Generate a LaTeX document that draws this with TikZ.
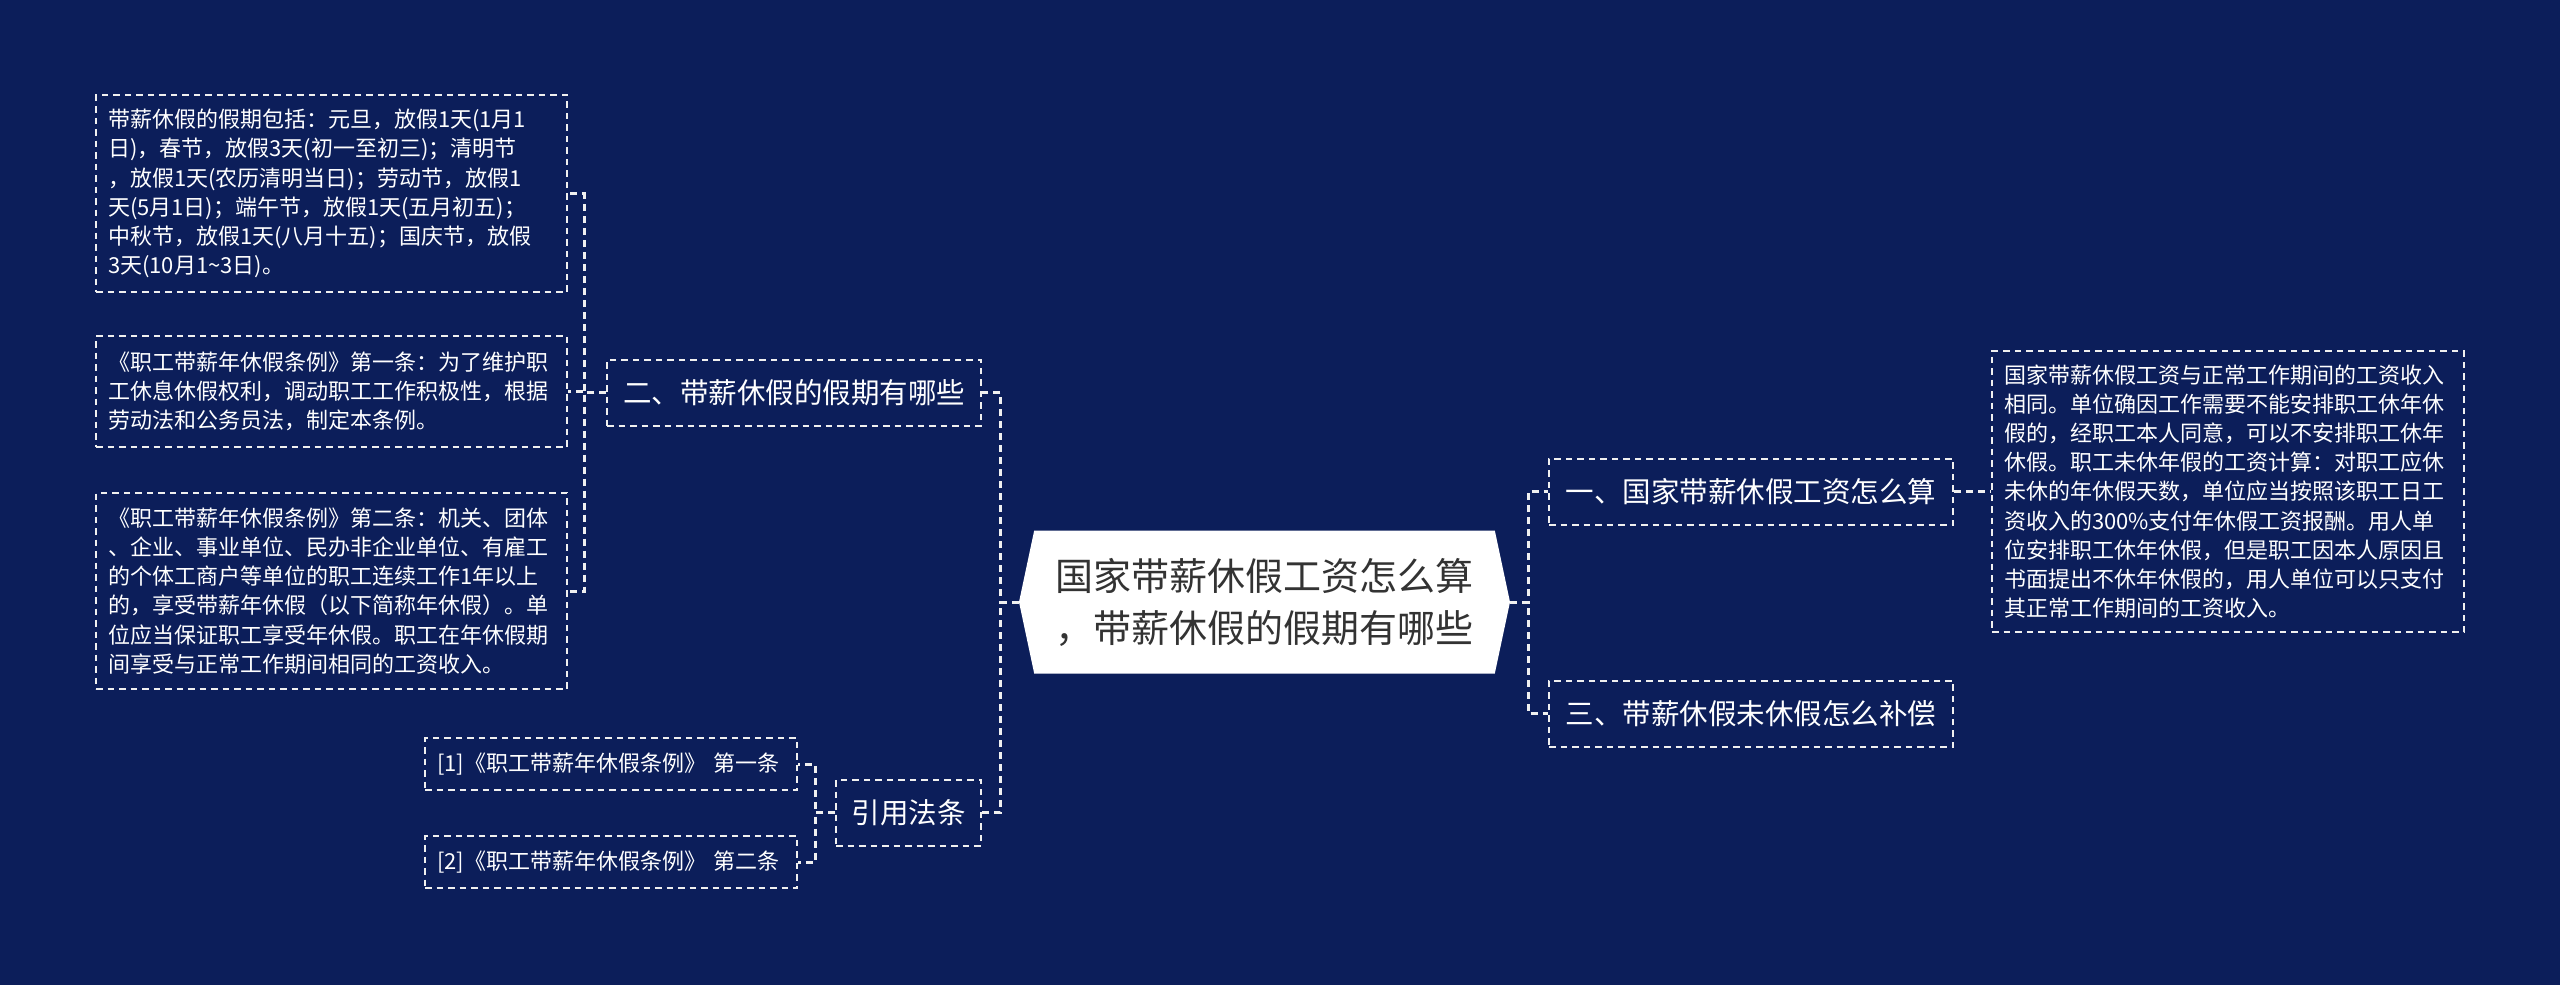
\documentclass[tikz,border=0pt]{standalone}
\usepackage{fontspec}
\setmainfont{Noto Sans CJK SC}
\usetikzlibrary{shapes.symbols}
\definecolor{navy}{HTML}{0C1E5A}
\definecolor{dashline}{HTML}{F0F0F0}
\definecolor{roottext}{HTML}{333333}

\begin{document}
\begin{tikzpicture}[x=1pt, y=-1pt,
    every node/.style={text=white, inner sep=0pt},
    box/.style={draw=dashline, line width=2pt, dash pattern=on 6.5pt off 5pt},
    leaf/.style={box, font=\fontsize{22}{29.2}\selectfont, align=left, inner xsep=12pt},
    topic/.style={box, font=\fontsize{28.5}{34}\selectfont, minimum height=66pt},
    root/.style={signal, signal to=west and east, signal pointer angle=156, fill=white, text=roottext,
      font=\fontsize{38}{52}\selectfont, align=center, minimum width=491pt, minimum height=143pt},
    link/.style={draw=dashline, line width=3pt, dash pattern=on 7pt off 5pt}
  ]
    \fill[navy] (0,0) rectangle (2560,985);
    \useasboundingbox (0,0) rectangle (2560,985);

    \node[root] (root) at (1264.5,602) {国家带薪休假工资怎么算\\，带薪休假的假期有哪些};

    \node[topic, minimum width=404pt] (wage) at (1751,491.5) {一、国家带薪休假工资怎么算};
    \node[topic, minimum width=404pt] (unused) at (1751,713.5) {三、带薪休假未休假怎么补偿};
    \node[leaf, text width=448pt, minimum height=281pt] (wagenote) at (2228,491.5) {国家带薪休假工资与正常工作期间的工资收入\\相同。单位确因工作需要不能安排职工休年休\\假的，经职工本人同意，可以不安排职工休年\\休假。职工未休年假的工资计算：对职工应休\\未休的年休假天数，单位应当按照该职工日工\\资收入的300\%支付年休假工资报酬。用人单\\位安排职工休年休假，但是职工因本人原因且\\书面提出不休年休假的，用人单位可以只支付\\其正常工作期间的工资收入。};

    \node[topic, minimum width=374pt] (holiday) at (794,392.5) {二、带薪休假的假期有哪些};
    \node[topic, minimum width=145pt] (law) at (908.5,812.5) {引用法条};

    \node[leaf, text width=447pt, minimum height=197pt] (holidaylist) at (331.5,193.5) {带薪休假的假期包括：元旦，放假1天(1月1\\日)，春节，放假3天(初一至初三)；清明节\\，放假1天(农历清明当日)；劳动节，放假1\\天(5月1日)；端午节，放假1天(五月初五)；\\中秋节，放假1天(八月十五)；国庆节，放假\\3天(10月1\textasciitilde3日)。};
    \node[leaf, text width=447pt, minimum height=111pt] (article1) at (331.5,391.5) {《职工带薪年休假条例》第一条：为了维护职\\工休息休假权利，调动职工工作积极性，根据\\劳动法和公务员法，制定本条例。};
    \node[leaf, text width=447pt, minimum height=196pt] (article2) at (331.5,591) {《职工带薪年休假条例》第二条：机关、团体\\、企业、事业单位、民办非企业单位、有雇工\\的个体工商户等单位的职工连续工作1年以上\\的，享受带薪年休假（以下简称年休假）。单\\位应当保证职工享受年休假。职工在年休假期\\间享受与正常工作期间相同的工资收入。};

    \node[leaf, text width=348pt, minimum height=52pt] (ref1) at (611,764) {[1]《职工带薪年休假条例》 第一条};
    \node[leaf, text width=348pt, minimum height=52pt] (ref2) at (611,862) {[2]《职工带薪年休假条例》 第二条};

    \draw[link] (root.east) -- ++(18,0) |- (wage.west);
    \draw[link] (root.east) -- ++(18,0) |- (unused.west);
    \draw[link] (wage.east) -- (wagenote.west);
    \draw[link] (root.west) -- ++(-18,0) |- (holiday.east);
    \draw[link] (root.west) -- ++(-18,0) |- (law.east);
    \draw[link] (holiday.west) -- ++(-22,0) |- (holidaylist.east);
    \draw[link] (holiday.west) -- ++(-22,0) |- (article1.east);
    \draw[link] (holiday.west) -- ++(-22,0) |- (article2.east);
    \draw[link] (law.west) -- ++(-20,0) |- (ref1.east);
    \draw[link] (law.west) -- ++(-20,0) |- (ref2.east);
\end{tikzpicture}
\end{document}
